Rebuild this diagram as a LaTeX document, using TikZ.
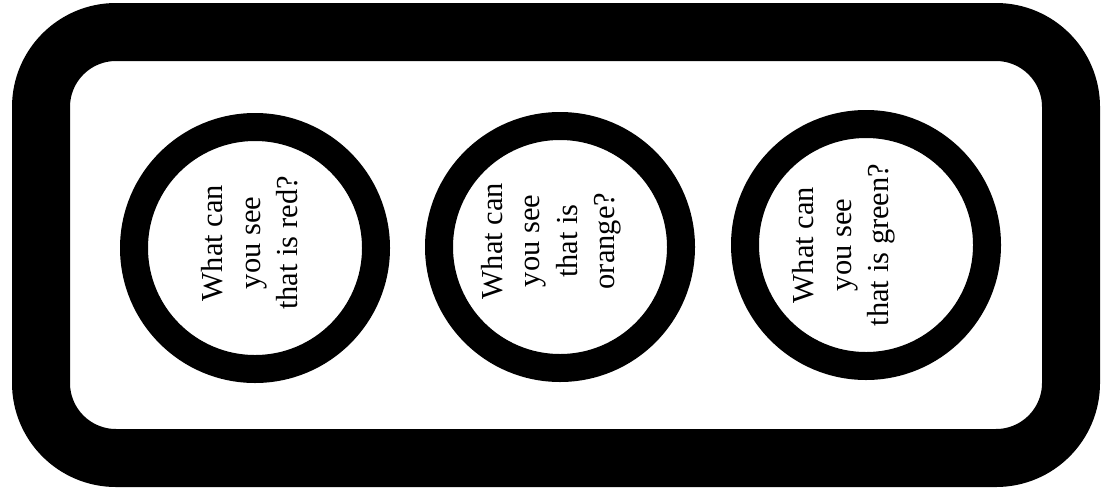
\documentclass[tikz,border=0pt]{standalone}
\usepackage{fontspec}
\setmainfont{Liberation Serif}
\begin{document}
\begin{tikzpicture}[x=1pt,y=-1pt,
  frame/.style={draw=black, line width=58pt, rounded corners=75pt},
  ring/.style={circle, draw=black, line width=28pt, minimum size=242pt, inner sep=0pt},
  q/.style={rotate=90, align=center, inner sep=0pt, font=\fontsize{30.5}{37.5}\selectfont}]
\useasboundingbox (0,0) rectangle (1102,493);
\draw[frame] (41,32) rectangle (1071,458);
\node[ring] (red) at (255,248) {};
\node[ring] (orange) at (560,247) {};
\node[ring] (green) at (866,245) {};
\node[q] (tred) at (250,243) {What can\\you see\\that is red?};
\node[q] (torange) at (551,241) {What can\\you see\\that is\\orange?};
\node[q] (tgreen) at (844,245) {What can\\you see\\that is green?};
\end{tikzpicture}
\end{document}
